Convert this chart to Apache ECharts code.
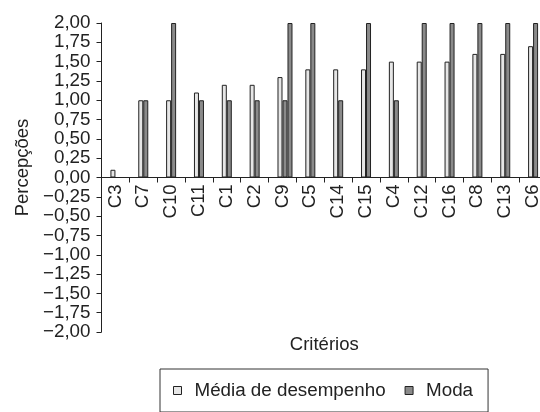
<!DOCTYPE html>
<html>
<head>
<meta charset="utf-8">
<style>html,body{margin:0;padding:0;background:#fff;}#c{width:540px;height:412px;}</style>
<script src="https://cdn.jsdelivr.net/npm/echarts@6/dist/echarts.min.js"></script>
</head>
<body>
<div id="c"></div>
<script>
var categories = ['C3','C7','C10','C11','C1','C2','C9','C5','C14','C15','C4','C12','C16','C8','C13','C6'];
var mediaDesempenho = [0.1,1.0,1.0,1.1,1.2,1.2,1.3,1.4,1.4,1.4,1.5,1.5,1.5,1.6,1.6,1.7];
var moda = [0,1,2,1,1,1,1,2,1,2,1,2,2,2,2,2];
var modaExtra = [null,null,null,null,null,null,2,null,null,null,null,null,null,null,null,null];
var emptySlot = [null,null,null,null,null,null,null,null,null,null,null,null,null,null,null,null];

var FONT = 'Liberation Sans, Arial, sans-serif';
var TXT = '#222';
var GRID_H = 309;
var chart = echarts.init(document.getElementById('c'), null, {renderer:'canvas'});
function fmt(v){
  var s = Math.abs(v).toFixed(2).replace('.', ',');
  return v < 0 ? '\u2212' + s : s;
}
var lightStyle = {color:'#e6e6e6', borderColor:'#222', borderWidth:1};
var darkStyle = {color:'#8a8a8a', borderColor:'#222', borderWidth:1};
chart.setOption({
  animation:false,
  backgroundColor:'#fff',
  grid:{left:101.5, right:-7, top:23, height:GRID_H, containLabel:false, outerBoundsMode:'none'},
  legend:{
    left:160, top:369, padding:[12,15,12,13],
    borderColor:'#333', borderWidth:1,
    itemWidth:8, itemHeight:8, itemGap:19,
    textStyle:{fontSize:18.8, color:TXT, fontFamily:FONT, padding:[0,0,0,8]},
    data:[{name:'Média de desempenho', icon:'rect', itemStyle:lightStyle},{name:'Moda', icon:'rect', itemStyle:darkStyle}]
  },
  xAxis:[{
    type:'category', data:categories, position:'bottom', offset:-GRID_H/2,
    name:'Critérios', nameLocation:'middle', nameGap:158,
    nameTextStyle:{fontSize:18.5, color:TXT, fontFamily:FONT},
    axisLine:{onZero:false, lineStyle:{color:'#222', width:1}},
    axisTick:{show:true, alignWithLabel:false, length:5, lineStyle:{color:'#222'}},
    axisLabel:{rotate:90, fontSize:18.5, color:TXT, fontFamily:FONT, margin:7, interval:0},
    splitLine:{show:false}
  },{
    type:'category', data:categories, show:false, gridIndex:0
  }],
  yAxis:{
    type:'value', min:-2, max:2, interval:0.25,
    name:'Percepções', nameLocation:'middle', nameGap:69, nameRotate:90,
    nameTextStyle:{fontSize:18.5, color:TXT, fontFamily:FONT, padding:[0,0,0,20]},
    axisLine:{show:true, lineStyle:{color:'#222', width:1}},
    axisTick:{show:true, length:5, lineStyle:{color:'#222'}},
    axisLabel:{fontSize:18.8, color:TXT, fontFamily:FONT, margin:11, formatter:fmt},
    splitLine:{show:false}
  },
  series:[
    {name:'Média de desempenho', type:'bar', xAxisIndex:0, data:mediaDesempenho, barWidth:5, barGap:'0%', itemStyle:lightStyle},
    {name:'Moda', type:'bar', xAxisIndex:0, data:moda, barWidth:5, barGap:'0%', itemStyle:darkStyle},
    {name:'', type:'bar', xAxisIndex:1, data:emptySlot, barWidth:5, barGap:'200%', itemStyle:darkStyle},
    {name:'Moda', type:'bar', xAxisIndex:1, data:modaExtra, barWidth:5, barGap:'200%', itemStyle:darkStyle}
  ]
});
</script>
</body>
</html>
